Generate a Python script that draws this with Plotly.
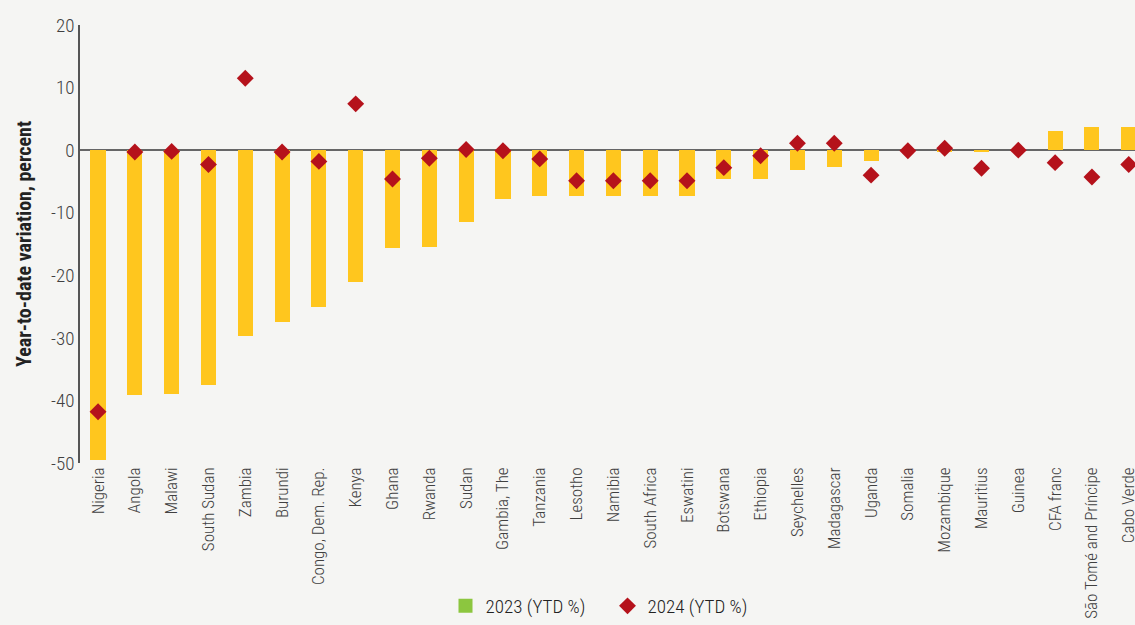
import plotly.graph_objects as go

# data
countries = [
    "Nigeria", "Angola", "Malawi", "South Sudan", "Zambia", "Burundi",
    "Congo, Dem. Rep.", "Kenya", "Ghana", "Rwanda", "Sudan", "Gambia, The",
    "Tanzania", "Lesotho", "Namibia", "South Africa", "Eswatini", "Botswana",
    "Ethiopia", "Seychelles", "Madagascar", "Uganda", "Somalia", "Mozambique",
    "Mauritius", "Guinea", "CFA franc", "São Tomé and Príncipe", "Cabo Verde",
]
ytd_2023 = [
    -49.5, -39.2, -39.0, -37.5, -29.7, -27.4,
    -25.0, -21.0, -15.7, -15.5, -11.5, -7.8,
    -7.3, -7.3, -7.3, -7.3, -7.3, -4.6,
    -4.6, -3.1, -2.7, -1.8, 0.0, -0.3,
    -0.2, 0.0, 3.0, 3.7, 3.7,
]
ytd_2024 = [
    -41.8, -0.3, -0.2, -2.3, 11.5, -0.3,
    -1.8, 7.4, -4.6, -1.3, 0.1, -0.1,
    -1.4, -4.9, -4.9, -4.9, -4.9, -2.8,
    -0.9, 1.1, 1.1, -4.0, -0.1, 0.3,
    -2.9, 0.0, -2.0, -4.3, -2.3,
]
y_ticks = [20, 10, 0, -10, -20, -30, -40, -50]
y_ticktext = ["20", "10", "0", "-10", "-20", "-30", "-40", "-50"]

font = "Roboto Condensed, DejaVu Sans Condensed, sans-serif"
bar_color = "#FFC61E"
legend_green = "#8CC63F"
diamond_color = "#B5121B"
text_color = "#404040"

fig = go.Figure()

fig.add_trace(go.Bar(
    x=countries, y=ytd_2023,
    marker=dict(color=bar_color, line=dict(width=0)),
    width=0.41,
    showlegend=False,
    name="2023 (YTD %)",
))

# legend entry for 2023 (the source shows a green swatch)
fig.add_trace(go.Scatter(
    x=[None], y=[None], mode="markers",
    marker=dict(symbol="square", color=legend_green, size=14),
    name="2023 (YTD %)",
))

fig.add_trace(go.Scatter(
    x=countries, y=ytd_2024, mode="markers",
    marker=dict(symbol="diamond", color=diamond_color, size=13),
    name="2024 (YTD %)",
))

fig.update_layout(
    width=1135, height=625,
    margin=dict(l=80, r=0, t=25, b=162),
    paper_bgcolor="#F5F5F3",
    plot_bgcolor="#F5F5F3",
    font=dict(family=font, size=17, color=text_color),
    bargap=0,
    legend=dict(
        orientation="h",
        entrywidth=117,
        x=0.5, xanchor="center",
        yref="container", y=-0.008, yanchor="bottom",
        font=dict(size=19, color="#222", weight=300),
        bgcolor="rgba(0,0,0,0)",
    ),
    xaxis=dict(
        range=[-0.49, 28.17],
        tickangle=-90,
        automargin=False,
        showgrid=False,
        showline=False,
        ticks="",
        tickfont=dict(size=17, color=text_color, weight=300),
    ),
    yaxis=dict(
        range=[-50, 20],
        tickvals=y_ticks,
        ticktext=y_ticktext,
        automargin=False,
        showgrid=False,
        zeroline=True,
        zerolinecolor="#666666",
        zerolinewidth=2,
        showline=True,
        linecolor="#555555",
        linewidth=1.5,
        ticks="",
        tickfont=dict(size=19, color=text_color, weight=300),
        title=dict(
            text="<b>Year-to-date variation, percent</b>",
            font=dict(size=20, color="#222"),
            standoff=14,
        ),
    ),
)

fig.write_html(
    "out.html",
    config={"displayModeBar": False},
    post_script="document.body.style.margin='0';",
)
